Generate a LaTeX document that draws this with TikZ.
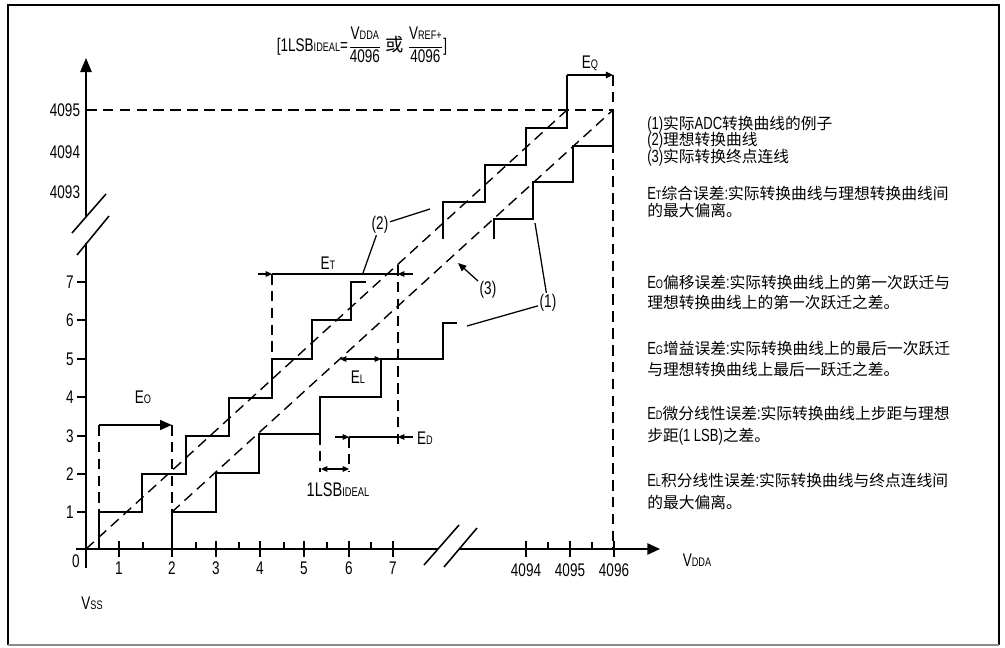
\documentclass[tikz,border=0pt]{standalone}
\usepackage{fontspec}
\setmainfont{Liberation Sans}[FakeStretch=0.74]
\newfontfamily\latf{Liberation Sans}[FakeStretch=0.74]
\newfontfamily\cjk{Noto Sans CJK SC}
\usetikzlibrary{arrows.meta}
\newcommand{\lsub}[1]{{\latf\fontsize{8.8pt}{9pt}\selectfont #1}}
\newcommand{\lat}[1]{{\latf\fontsize{12.5pt}{14pt}\selectfont #1}}

\begin{document}
\begin{tikzpicture}[x=0.025cm, y=-0.025cm,
  every node/.style = {inner sep=1pt, font=\fontsize{13pt}{15pt}\selectfont},
  stair/.style = {line width=1.4pt},
  guide/.style = {line width=1pt, dash pattern=on 7.5pt off 4.5pt},
  axis/.style = {line width=1.4pt},
  tick/.style = {line width=1.1pt},
  leader/.style = {line width=0.9pt},
  dim/.style = {line width=0.9pt, -{Triangle[length=4.5pt,width=4pt]}},
  dimboth/.style = {line width=0.9pt,
    {Triangle[length=4.5pt,width=4pt]}-{Triangle[length=4.5pt,width=4pt]}},
  note/.style = {anchor=west, inner sep=0pt, font=\cjk\fontsize{11.2pt}{14pt}\selectfont}]
  \useasboundingbox (0,0) rectangle (1005,648);
  % frame
  \draw[line width=1.4pt] (8,645) -- (8,5) -- (999,5) -- (999,645);
  \draw[line width=1pt, black!45] (8,645) -- (999,645);

  % axes with breaks
  \draw[axis] (86,568) -- (86,243);
  \draw[axis, -{Triangle[length=10pt,width=8pt]}] (86,217) -- (86,58);
  \draw[axis] (76,549) -- (438,549);
  \draw[axis, -{Triangle[length=9pt,width=8pt]}] (459,549) -- (660,549);
  \draw[tick] (72,233) -- (106,194);
  \draw[tick] (77,255) -- (109,216);
  \draw[tick] (424,565) -- (459,525);
  \draw[tick] (444,567) -- (477,528);

  % ticks and numbers
  \foreach \x in {119,172,216,260,304,349,393,526,570,614}
    \draw[tick] (\x,541) -- (\x,557);
  \foreach \x in {143,196,239,284,327,371,548,592}
    \draw[tick] (\x,542) -- (\x,549);
  \foreach \y/\n in {512/1,474/2,436/3,397/4,359/5,320/6,282/7} {
    \draw[tick] (77,\y) -- (86,\y);
    \node (ylab\n) at (70,\y) {\n};
  }
  \foreach \y/\n in {110/4095,152/4094,192/4093}
    \node (ylab\n) at (65,\y) {\n};
  \foreach \x/\n in {119/1,172/2,216/3,260/4,304/5,349/6,393/7}
    \node (xlab\n) at (\x,568) {\n};
  \foreach \x/\n in {526/4094,570/4095,614/4096}
    \node (xlab\n) at (\x,570) {\n};
  \node (zero) at (76,561) {0};
  \node (vss) at (92,603) {V\lsub{SS}};
  \node (vdda) at (697,560) {V\lsub{DDA}};

  % guide lines
  \draw[guide] (86,549) -- (567,110);
  \draw[guide] (172,512) -- (613,110);
  \draw[guide] (86,110) -- (613,110);
  \draw[guide] (613,75) -- (613,549);
  \draw[guide] (99,425) -- (99,512);
  \draw[guide] (172,425) -- (172,512);
  \draw[guide] (272,274) -- (272,359);
  \draw[guide] (398,265) -- (398,447);
  \draw[guide] (320,434) -- (320,472);
  \draw[guide] (349,437) -- (349,472);

  % ideal curve
  \draw[stair] (99,549) -- (99,512) -- (142,512) -- (142,474) -- (186,474)
    -- (186,436) -- (229,436) -- (229,398) -- (272,398) -- (272,359)
    -- (312,359) -- (312,320) -- (351,320) -- (351,282) -- (366,282);
  \draw[stair] (443,239) -- (443,202) -- (485,202) -- (485,165) -- (526,165)
    -- (526,128) -- (567,128) -- (567,75);
  % actual curve
  \draw[stair] (172,549) -- (172,512) -- (216,512) -- (216,473) -- (259,473)
    -- (259,434) -- (320,434) -- (320,397) -- (381,397) -- (381,359)
    -- (443,359) -- (443,323) -- (457,323);
  \draw[stair] (494,239) -- (494,219) -- (533,219) -- (533,182) -- (573,182)
    -- (573,146) -- (613,146) -- (613,110);

  % error marks
  \draw[line width=1.3pt, -{Triangle[length=8.5pt,width=7pt]}] (99,425) -- (172,425);
  \draw[line width=1.1pt, -{Triangle[length=5pt,width=4.5pt]}] (567,75) -- (613,75);
  \draw[leader] (272,274) -- (398,274);
  \draw[dim] (258,274) -- (272,274);
  \draw[dim] (413,274) -- (398,274);
  \draw[leader] (349,437) -- (398,437);
  \draw[dim] (335,437) -- (349,437);
  \draw[dim] (413,437) -- (398,437);
  \draw[dimboth] (340,359) -- (381,359);
  \draw[dimboth] (321,469) -- (349,469);

  \node (eo) at (143,397) {E\lsub{O}};
  \node (et) at (328,263) {E\lsub{T}};
  \node (el) at (358,377) {E\lsub{L}};
  \node (ed) at (425,438) {E\lsub{D}};
  \node (eq) at (590,63) {E\lsub{Q}};
  \node (lsb) at (338,490) {\fontsize{14pt}{15pt}\selectfont 1LSB{\latf\fontsize{9pt}{9pt}\selectfont IDEAL}};
  \node (lsbdef) at (362,45) {[1LSB\lsub{IDEAL}=$\displaystyle\frac{\mbox{V\lsub{DDA}}}{\mbox{4096}}$ {\cjk 或} $\displaystyle\frac{\mbox{V\lsub{REF+}}}{\mbox{4096}}$]};

  % curve labels
  \node (c1) at (548,303) {(1)};
  \node (c2) at (380,225) {(2)};
  \node (c3) at (488,290) {(3)};
  \coordinate (c1a) at (535,223);
  \coordinate (c1b) at (467,326);
  \coordinate (c2a) at (363,273);
  \coordinate (c2b) at (430,209);
  \coordinate (c3a) at (458,263);
  \draw[leader] (c1) -- (c1a);
  \draw[leader] (c1) -- (c1b);
  \draw[leader] (c2) -- (c2a);
  \draw[leader] (c2) -- (c2b);
  \draw[leader, -{Triangle[length=6pt,width=5pt]}] (c3) -- (c3a);

  % notes
  \foreach \y/\txt in {
      125/{\lat{(1)}实际\lat{ADC}转换曲线的例子},
      141/{\lat{(2)}理想转换曲线},
      158/{\lat{(3)}实际转换终点连线},
      193/{\lat{E}\lsub{T}综合误差\lat{:}实际转换曲线与理想转换曲线间},
      210/{的最大偏离。},
      282/{\lat{E}\lsub{O}偏移误差\lat{:}实际转换曲线上的第一次跃迁与},
      303/{理想转换曲线上的第一次跃迁之差。},
      348/{\lat{E}\lsub{G}增益误差\lat{:}实际转换曲线上的最后一次跃迁},
      370/{与理想转换曲线上最后一跃迁之差。},
      413/{\lat{E}\lsub{D}微分线性误差\lat{:}实际转换曲线上步距与理想},
      437/{步距\lat{(1 LSB)}之差。},
      480/{\lat{E}\lsub{L}积分线性误差\lat{:}实际转换曲线与终点连线间},
      502/{的最大偏离。}}
    \node[note] (note\y) at (647,\y) {\txt};
\end{tikzpicture}
\end{document}
